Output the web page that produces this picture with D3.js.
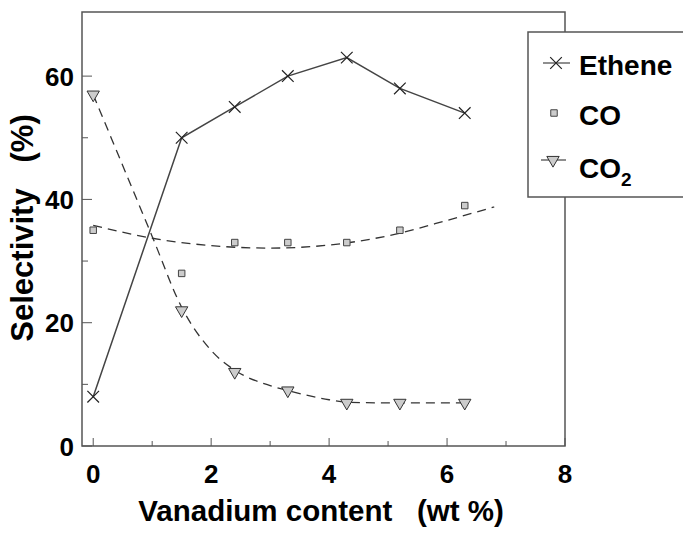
<!DOCTYPE html>
<html>
<head>
<meta charset="utf-8">
<script src="https://cdn.jsdelivr.net/npm/d3@7"></script>
<style>
  body { margin: 0; background: #fff; }
  text { font-family: "Liberation Sans", Arial, sans-serif; font-weight: bold; fill: #000; white-space: pre; }
</style>
</head>
<body>
<div id="chart"></div>
<script>
// data
const vanadium = [0, 1.5, 2.4, 3.3, 4.3, 5.2, 6.3];
const ethene = [8, 50, 55, 60, 63, 58, 54];
const co = [35, 28, 33, 33, 33, 35, 39];
const co2 = [57, 22, 12, 9, 7, 7, 7];

// dashed trend lines as drawn in the figure
const coFitX = [0, 1, 2, 3, 4, 5, 6, 6.8];
const coFitY = [35.8, 33.7, 32.5, 32.1, 32.6, 34.1, 36.6, 38.8];
const co2FitX = [0, 0.5, 1, 1.5, 2, 2.4, 3, 3.3, 4, 4.3, 5, 6.3];
const co2FitY = [57, 45.5, 34, 22.5, 15.5, 12.3, 9.8, 9, 7.5, 7.1, 7, 7];

const xMajor = [0, 2, 4, 6, 8];
const xMinor = [1, 3, 5, 7];
const yMajor = [0, 20, 40, 60];
const yMinor = [10, 30, 50];

const legendItems = ["Ethene", "CO", "CO2"];

const config = {
    width: 683,
    height: 535,
    plot: {left: 82, right: 565, top: 12, bottom: 446}
};

const svg = d3.select("#chart").append("svg")
    .attr("width", config.width)
    .attr("height", config.height);

const x = d3.scaleLinear().domain([-0.19, 8]).range([config.plot.left, config.plot.right]);
const y = d3.scaleLinear().domain([0, 70.4]).range([config.plot.bottom, config.plot.top]);

const frameColor = "#555";

// frame
svg.append("rect")
    .attr("x", config.plot.left)
    .attr("y", config.plot.top)
    .attr("width", config.plot.right - config.plot.left)
    .attr("height", config.plot.bottom - config.plot.top)
    .attr("fill", "none")
    .attr("stroke", frameColor)
    .attr("stroke-width", 1.5);

// ticks (inward)
const tickG = svg.append("g").attr("stroke", frameColor).attr("stroke-width", 1);
tickG.selectAll(".xmaj").data(xMajor).enter().append("line")
    .attr("x1", d => x(d)).attr("x2", d => x(d))
    .attr("y1", config.plot.bottom).attr("y2", config.plot.bottom - 8);
tickG.selectAll(".xmin").data(xMinor).enter().append("line")
    .attr("x1", d => x(d)).attr("x2", d => x(d))
    .attr("y1", config.plot.bottom).attr("y2", config.plot.bottom - 5);
tickG.selectAll(".ymaj").data(yMajor).enter().append("line")
    .attr("y1", d => y(d)).attr("y2", d => y(d))
    .attr("x1", config.plot.left).attr("x2", config.plot.left + 10);
tickG.selectAll(".ymin").data(yMinor).enter().append("line")
    .attr("y1", d => y(d)).attr("y2", d => y(d))
    .attr("x1", config.plot.left).attr("x2", config.plot.left + 6);

// tick labels
svg.selectAll(".xlab").data(xMajor).enter().append("text")
    .attr("x", d => x(d))
    .attr("y", 483)
    .attr("text-anchor", "middle")
    .attr("font-size", 26)
    .text(d => d);
svg.selectAll(".ylab").data(yMajor).enter().append("text")
    .attr("x", 74)
    .attr("y", d => y(d) + 9.5)
    .attr("text-anchor", "end")
    .attr("font-size", 26)
    .text(d => d);

// axis titles
svg.append("text")
    .attr("x", 321)
    .attr("y", 521)
    .attr("text-anchor", "middle")
    .attr("font-size", 29.5)
    .text("Vanadium content   (wt %)");
svg.append("text")
    .attr("transform", "translate(33,228) rotate(-90)")
    .attr("text-anchor", "middle")
    .attr("font-size", 31)
    .text("Selectivity   (%)");

// lines
const line = d3.line().x(d => x(d[0])).y(d => y(d[1]));
const smooth = d3.line().x(d => x(d[0])).y(d => y(d[1])).curve(d3.curveMonotoneX);

svg.append("path")
    .datum(d3.zip(coFitX, coFitY))
    .attr("d", smooth)
    .attr("fill", "none")
    .attr("stroke", "#333")
    .attr("stroke-width", 1.3)
    .attr("stroke-dasharray", "9,6");

svg.append("path")
    .datum(d3.zip(co2FitX, co2FitY))
    .attr("d", smooth)
    .attr("fill", "none")
    .attr("stroke", "#333")
    .attr("stroke-width", 1.3)
    .attr("stroke-dasharray", "9,6");

svg.append("path")
    .datum(d3.zip(vanadium, ethene))
    .attr("d", line)
    .attr("fill", "none")
    .attr("stroke", "#444")
    .attr("stroke-width", 1.5);

// markers
const crossPath = d3.symbol().type(d3.symbolX).size(90);
const squarePath = d3.symbol().type(d3.symbolSquare).size(42);
const triPath = d3.symbol().type(d3.symbolTriangle).size(66);

svg.selectAll(".eth").data(d3.zip(vanadium, ethene)).enter().append("path")
    .attr("d", crossPath)
    .attr("transform", d => `translate(${x(d[0])},${y(d[1])})`)
    .attr("fill", "none")
    .attr("stroke", "#222")
    .attr("stroke-width", 1.2);

svg.selectAll(".co").data(d3.zip(vanadium, co)).enter().append("path")
    .attr("d", squarePath)
    .attr("transform", d => `translate(${x(d[0])},${y(d[1])})`)
    .attr("fill", "#ccc")
    .attr("stroke", "#444")
    .attr("stroke-width", 1);

svg.selectAll(".co2").data(d3.zip(vanadium, co2)).enter().append("path")
    .attr("d", triPath)
    .attr("transform", d => `translate(${x(d[0])},${y(d[1])}) rotate(180)`)
    .attr("fill", "#ccc")
    .attr("stroke", "#333")
    .attr("stroke-width", 1);

// legend
const legend = svg.append("g");
legend.append("rect")
    .attr("x", 528).attr("y", 32)
    .attr("width", 170).attr("height", 165)
    .attr("fill", "#fff")
    .attr("stroke", frameColor)
    .attr("stroke-width", 1.5);

const legY = [63, 113, 160];
const legTextY = [75, 125, 178];

legendItems.forEach((name, i) => {
    const g = legend.append("g");
    if (i === 0) {
        g.append("line").attr("x1", 543).attr("x2", 570).attr("y1", legY[i]).attr("y2", legY[i])
            .attr("stroke", "#444").attr("stroke-width", 1.2);
        g.append("path").attr("d", crossPath).attr("transform", `translate(556,${legY[i]})`)
            .attr("fill", "none").attr("stroke", "#222").attr("stroke-width", 1.2);
    } else if (i === 1) {
        g.append("path").attr("d", squarePath).attr("transform", `translate(554,${legY[i]})`)
            .attr("fill", "#ccc").attr("stroke", "#444");
    } else {
        g.append("line").attr("x1", 541).attr("x2", 566).attr("y1", legY[i]).attr("y2", legY[i])
            .attr("stroke", "#444").attr("stroke-width", 1.2);
        g.append("path").attr("d", triPath).attr("transform", `translate(553,${legY[i]}) rotate(180)`)
            .attr("fill", "#ccc").attr("stroke", "#333");
    }
    const t = g.append("text")
        .attr("x", 579)
        .attr("y", legTextY[i])
        .attr("font-size", 28);
    if (name === "CO2") {
        t.append("tspan").text("CO");
        t.append("tspan").attr("font-size", 19).attr("dy", 8).text("2");
    } else {
        t.text(name);
    }
});
</script>
</body>
</html>
